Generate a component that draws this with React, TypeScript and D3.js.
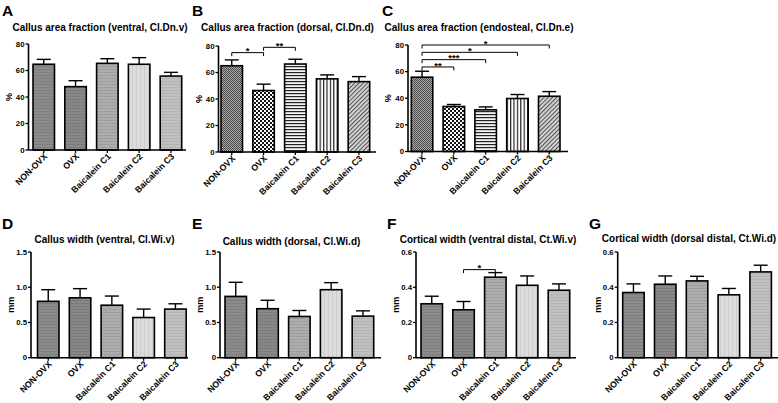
import React from "react";
import * as d3 from "d3";

const categories = ["NON-OVX", "OVX", "Baicalein C1", "Baicalein C2", "Baicalein C3"];

const ticksPercent = [0, 20, 40, 60, 80];
const tickLabelsPercent = ["0", "20", "40", "60", "80"];
const ticksCallus = [0, 0.5, 1.0, 1.5];
const tickLabelsCallus = ["0", "0.5", "1.0", "1.5"];
const ticksCortical = [0, 0.2, 0.4, 0.6];
const tickLabelsCortical = ["0", "0.2", "0.4", "0.6"];

const meanA = [64.7, 47.8, 65.4, 64.7, 55.8];
const semA = [3.7, 4.5, 3.5, 5.0, 2.8];
const meanB = [65.1, 46.4, 66.4, 55.2, 53.1];
const semB = [4.4, 4.8, 3.6, 3.0, 3.8];
const meanC = [55.8, 33.8, 31.3, 39.8, 41.5];
const semC = [4.5, 1.5, 2.2, 3.0, 3.5];
const meanD = [0.8, 0.85, 0.745, 0.57, 0.69];
const semD = [0.165, 0.13, 0.13, 0.12, 0.075];
const meanE = [0.87, 0.695, 0.585, 0.965, 0.59];
const semE = [0.2, 0.12, 0.085, 0.1, 0.075];
const meanF = [0.306, 0.272, 0.457, 0.411, 0.383];
const semF = [0.043, 0.047, 0.026, 0.053, 0.036];
const meanG = [0.37, 0.417, 0.436, 0.357, 0.487];
const semG = [0.049, 0.047, 0.026, 0.036, 0.038];

// significance brackets: [from index, to index, level (data units), label]
const sigB: [number, number, number, string][] = [
  [0, 1, 75, "*"],
  [1, 2, 79, "**"],
];
const sigC: [number, number, number, string][] = [
  [0, 1, 63.5, "**"],
  [0, 2, 69, "***"],
  [0, 3, 74.5, "*"],
  [0, 4, 80, "*"],
];
const sigF: [number, number, number, string][] = [[1, 2, 0.5, "*"]];

const titles = [
  "Callus area fraction (ventral, Cl.Dn.v)",
  "Callus area fraction (dorsal, Cl.Dn.d)",
  "Callus area fraction (endosteal, Cl.Dn.e)",
  "Callus width (ventral, Cl.Wi.v)",
  "Callus width (dorsal, Cl.Wi.d)",
  "Cortical width (ventral distal, Ct.Wi.v)",
  "Cortical width (dorsal distal, Ct.Wi.d)",
];
const letters = ["A", "B", "C", "D", "E", "F", "G"];

const FONT = "'Liberation Sans', Arial, Helvetica, sans-serif";
const STEP = 31.8;
const BW = 21.5;
const PAD = 1 - BW / STEP;

type Cfg = {
  letter: string;
  title: string;
  mean: number[];
  sem: number[];
  ticks: number[];
  tickLabels: string[];
  max: number;
  yLabel: string;
  sig: [number, number, number, string][];
  patterns: string[];
  axisX: number;
  axisEnd: number;
  y0: number;
  yTop: number;
  gap: number;
  letterX: number;
  letterY: number;
  titleX: number;
  titleY: number;
};

const plain = ["pA0", "pA1", "pA2", "pA3", "pA4"];
const hatched = ["pB0", "pB1", "pB2", "pB3", "pB4"];

const panels: Cfg[] = [
  { letter: letters[0], title: titles[0], mean: meanA, sem: semA, ticks: ticksPercent, tickLabels: tickLabelsPercent, max: 80, yLabel: "%", sig: [], patterns: plain,
    axisX: 28.5, axisEnd: 186, y0: 150, yTop: 44, gap: 4.5, letterX: 2, letterY: 15.5, titleX: 100, titleY: 31 },
  { letter: letters[1], title: titles[1], mean: meanB, sem: semB, ticks: ticksPercent, tickLabels: tickLabelsPercent, max: 80, yLabel: "%", sig: sigB, patterns: hatched,
    axisX: 218.5, axisEnd: 376, y0: 152, yTop: 46, gap: 2.5, letterX: 192, letterY: 15.5, titleX: 287.5, titleY: 31 },
  { letter: letters[2], title: titles[2], mean: meanC, sem: semC, ticks: ticksPercent, tickLabels: tickLabelsPercent, max: 80, yLabel: "%", sig: sigC, patterns: hatched,
    axisX: 408, axisEnd: 568, y0: 151.5, yTop: 45, gap: 3.3, letterX: 382, letterY: 15.5, titleX: 479, titleY: 31 },
  { letter: letters[3], title: titles[3], mean: meanD, sem: semD, ticks: ticksCallus, tickLabels: tickLabelsCallus, max: 1.5, yLabel: "mm", sig: [], patterns: plain,
    axisX: 31, axisEnd: 188, y0: 357.7, yTop: 252, gap: 6.5, letterX: 2, letterY: 228.5, titleX: 104.5, titleY: 243 },
  { letter: letters[4], title: titles[4], mean: meanE, sem: semE, ticks: ticksCallus, tickLabels: tickLabelsCallus, max: 1.5, yLabel: "mm", sig: [], patterns: plain,
    axisX: 220, axisEnd: 381, y0: 357.7, yTop: 252, gap: 5, letterX: 192, letterY: 228.5, titleX: 291.5, titleY: 245 },
  { letter: letters[5], title: titles[5], mean: meanF, sem: semF, ticks: ticksCortical, tickLabels: tickLabelsCortical, max: 0.6, yLabel: "mm", sig: sigF, patterns: plain,
    axisX: 416, axisEnd: 576, y0: 357.7, yTop: 252, gap: 5, letterX: 387, letterY: 228.5, titleX: 488, titleY: 243 },
  { letter: letters[6], title: titles[6], mean: meanG, sem: semG, ticks: ticksCortical, tickLabels: tickLabelsCortical, max: 0.6, yLabel: "mm", sig: [], patterns: plain,
    axisX: 617.7, axisEnd: 778, y0: 357.7, yTop: 252, gap: 5, letterX: 589, letterY: 228.5, titleX: 689, titleY: 242 },
];

function Defs() {
  return (
    <defs>
      <pattern id="pA0" patternUnits="userSpaceOnUse" width={4} height={3}>
        <rect width={4} height={3} fill="#8b8b8b" />
        <rect width={4} height={1} fill="#7e7e7e" />
      </pattern>
      <pattern id="pA1" patternUnits="userSpaceOnUse" width={4} height={3}>
        <rect width={4} height={3} fill="#888888" />
        <rect width={4} height={1} fill="#7b7b7b" />
      </pattern>
      <pattern id="pA2" patternUnits="userSpaceOnUse" width={4} height={3}>
        <rect width={4} height={3} fill="#adadad" />
        <rect width={4} height={1} fill="#9e9e9e" />
      </pattern>
      <pattern id="pA3" patternUnits="userSpaceOnUse" width={4} height={4}>
        <rect width={4} height={4} fill="#dcdcdc" />
        <rect width={1} height={4} fill="#cdcdcd" />
      </pattern>
      <pattern id="pA4" patternUnits="userSpaceOnUse" width={4} height={3}>
        <rect width={4} height={3} fill="#c0c0c0" />
        <rect width={4} height={1} fill="#b3b3b3" />
      </pattern>
      <pattern id="pB0" patternUnits="userSpaceOnUse" width={2} height={2}>
        <rect width={2} height={2} fill="#a8a8a8" />
        <rect width={1} height={1} fill="#4a4a4a" />
        <rect x={1} y={1} width={1} height={1} fill="#4a4a4a" />
      </pattern>
      <pattern id="pB1" patternUnits="userSpaceOnUse" width={4} height={4}>
        <rect width={4} height={4} fill="#ffffff" />
        <rect width={2} height={2} fill="#111111" />
        <rect x={2} y={2} width={2} height={2} fill="#111111" />
      </pattern>
      <pattern id="pB2" patternUnits="userSpaceOnUse" width={4} height={3}>
        <rect width={4} height={3} fill="#f4f4f4" />
        <rect width={4} height={1.2} fill="#222222" />
      </pattern>
      <pattern id="pB3" patternUnits="userSpaceOnUse" width={3.4} height={4}>
        <rect width={3.4} height={4} fill="#ffffff" />
        <rect width={1.2} height={4} fill="#222222" />
      </pattern>
      <pattern id="pB4" patternUnits="userSpaceOnUse" width={3} height={3} patternTransform="rotate(45)">
        <rect width={3} height={3} fill="#d8d8d8" />
        <rect width={1.1} height={3} fill="#555555" />
      </pattern>
    </defs>
  );
}

function Panel({ cfg }: { cfg: Cfg }) {
  const x = d3
    .scaleBand<string>()
    .domain(categories)
    .range([cfg.axisX + cfg.gap, cfg.axisX + cfg.gap + STEP * (categories.length - PAD)])
    .paddingInner(PAD)
    .paddingOuter(0);
  const y = d3.scaleLinear().domain([0, cfg.max]).range([cfg.y0, cfg.yTop]);
  const bw = x.bandwidth();
  const cap = bw * 0.65;
  const cx = (c: string) => (x(c) as number) + bw / 2;
  const midY = (cfg.y0 + cfg.yTop) / 2;

  return (
    <g fontFamily={FONT} fontWeight="bold">
      <text x={cfg.letterX} y={cfg.letterY} fontSize={15.5}>{cfg.letter}</text>
      <text x={cfg.titleX} y={cfg.titleY} fontSize={10} textAnchor="middle">{cfg.title}</text>
      <text
        transform={`translate(${cfg.axisX - 20},${midY}) rotate(-90)`}
        textAnchor="middle"
        dominantBaseline="central"
        fontSize={9}
      >
        {cfg.yLabel}
      </text>

      {categories.map((c, i) => {
        const top = y(cfg.mean[i]);
        const et = y(cfg.mean[i] + cfg.sem[i]);
        return (
          <g key={c}>
            <line x1={cx(c)} x2={cx(c)} y1={top} y2={et} stroke="#000" strokeWidth={1.4} />
            <line x1={cx(c) - cap / 2} x2={cx(c) + cap / 2} y1={et} y2={et} stroke="#000" strokeWidth={1.4} />
            <rect
              x={x(c)}
              y={top}
              width={bw}
              height={cfg.y0 - top}
              fill={`url(#${cfg.patterns[i]})`}
              stroke="#000"
              strokeWidth={1.6}
            />
          </g>
        );
      })}

      <line x1={cfg.axisX} x2={cfg.axisX} y1={y(cfg.max)} y2={cfg.y0} stroke="#000" strokeWidth={1.6} />
      <line x1={cfg.axisX} x2={cfg.axisEnd} y1={cfg.y0} y2={cfg.y0} stroke="#000" strokeWidth={1.6} />
      {cfg.ticks.map((t, i) => (
        <g key={`t${i}`}>
          <line x1={cfg.axisX - 3} x2={cfg.axisX} y1={y(t)} y2={y(t)} stroke="#000" strokeWidth={1.3} />
          <text x={cfg.axisX - 4} y={y(t)} dy="0.35em" textAnchor="end" fontSize={7.8}>
            {cfg.tickLabels[i]}
          </text>
        </g>
      ))}
      {categories.map((c) => (
        <g key={`x${c}`}>
          <line x1={cx(c)} x2={cx(c)} y1={cfg.y0} y2={cfg.y0 + 3} stroke="#000" strokeWidth={1.3} />
          <text
            transform={`translate(${cx(c) + 4},${cfg.y0 + 7}) rotate(-45)`}
            textAnchor="end"
            fontSize={8.7}
          >
            {c}
          </text>
        </g>
      ))}

      {cfg.sig.map(([a, b, lvl, lab], i) => {
        const x1 = cx(categories[a]);
        const x2 = cx(categories[b]);
        const yl = y(lvl);
        return (
          <g key={`s${i}`}>
            <path d={`M${x1},${yl + 3.5}V${yl}H${x2}V${yl + 3.5}`} fill="none" stroke="#000" strokeWidth={1} />
            <text x={(x1 + x2) / 2} y={yl + 1.8} textAnchor="middle" fontSize={9.5}>
              {lab}
            </text>
          </g>
        );
      })}
    </g>
  );
}

export default function App() {
  return (
    <svg
      width={778}
      height={403}
      viewBox="0 0 778 403"
      style={{ position: "absolute", left: 0, top: 0, background: "#fff" }}
    >
      <rect width={778} height={403} fill="#fff" />
      <Defs />
      {panels.map((p) => (
        <Panel key={p.letter} cfg={p} />
      ))}
    </svg>
  );
}
